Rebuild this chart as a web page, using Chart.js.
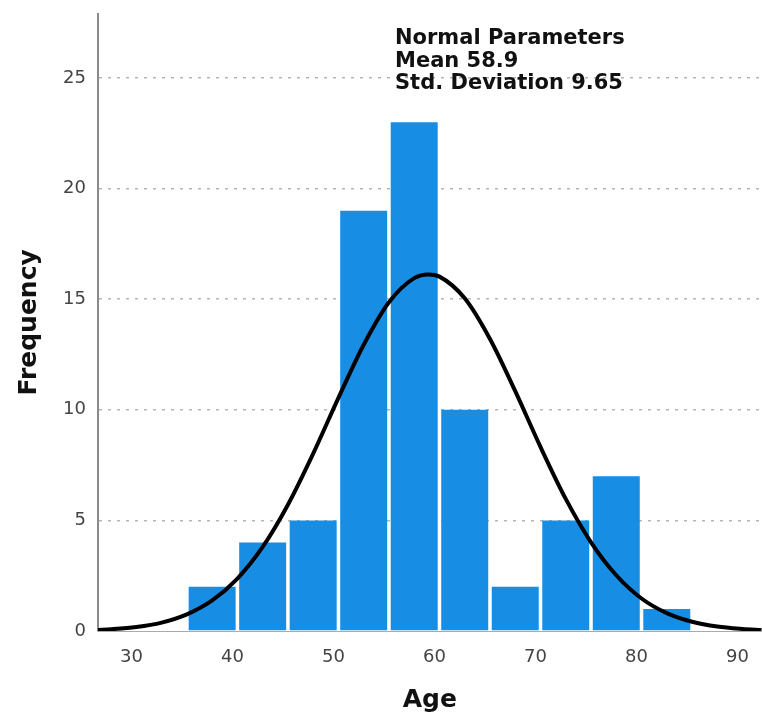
<!DOCTYPE html>
<html>
<head>
<meta charset="utf-8">
<title>Age histogram</title>
<script src="https://cdn.jsdelivr.net/npm/chart.js@4"></script>
<style>
  html, body { margin: 0; padding: 0; background: #fff; }
  #wrap { width: 762px; height: 715px; }
</style>
</head>
<body>
<div id="wrap"><canvas id="chart" width="762" height="715"></canvas></div>
<script>
// histogram of Age, bins 5 years wide
const binCenters = [37.5, 42.5, 47.5, 52.5, 57.5, 62.5, 67.5, 72.5, 77.5, 82.5];
const frequencies = [2, 4, 5, 19, 23, 10, 2, 5, 7, 1];

// normal curve
const curveAge = [26.2, 27.5, 30, 32.5, 35, 37.5, 40, 42.5, 45, 47.5, 50, 52.5, 55, 57.5, 58.9,
  60, 62.5, 65, 67.5, 70, 72.5, 75, 77.5, 80, 82.5, 85, 87.5, 90, 91.9];
const curveFreq = [0.05, 0.08, 0.18, 0.38, 0.75, 1.38, 2.37, 3.8, 5.71, 8.02, 10.54, 12.94, 14.86, 15.95, 16.12,
  16.02, 15.04, 13.2, 10.84, 8.32, 5.97, 4.01, 2.52, 1.47, 0.81, 0.42, 0.2, 0.09, 0.04];

const statLines = ['Normal Parameters', 'Mean 58.9', 'Std. Deviation 9.65'];

const xTicks = [30, 40, 50, 60, 70, 80, 90];
const yTicks = [0, 5, 10, 15, 20, 25];

const statsBox = {
  id: 'statsBox',
  beforeDatasetsDraw(chart) {
    const ctx = chart.ctx;
    ctx.save();
    ctx.fillStyle = '#111';
    ctx.font = 'bold 21px "DejaVu Sans"';
    ctx.textBaseline = 'middle';
    ctx.textAlign = 'left';
    statLines.forEach((t, i) => ctx.fillText(t, 395, 39 + i * 22.5));
    ctx.restore();
  }
};

const ctx = document.getElementById('chart').getContext('2d');
new Chart(ctx, {
  type: 'bar',
  data: {
    datasets: [
      {
        type: 'line',
        label: 'Normal',
        data: curveAge.map((a, i) => ({ x: a, y: curveFreq[i] })),
        borderColor: '#000',
        borderWidth: 4,
        pointRadius: 0,
        tension: 0.4,
        cubicInterpolationMode: 'monotone',
        fill: false,
        order: 0
      },
      {
        label: 'Frequency',
        data: binCenters.map((c, i) => ({ x: c, y: frequencies[i] })),
        backgroundColor: '#178de4',
        borderWidth: 0,
        barPercentage: 0.93,
        categoryPercentage: 1,
        order: 1
      }
    ]
  },
  options: {
    responsive: false,
    animation: false,
    layout: { padding: { top: 9, right: 0, left: 0, bottom: 0 } },
    plugins: {
      legend: { display: false },
      tooltip: { enabled: false }
    },
    scales: {
      x: {
        type: 'linear',
        offset: false,
        min: 26.2,
        max: 91.9,
        afterFit(scale) { scale.height = 84; },
        afterBuildTicks(scale) { scale.ticks = xTicks.map(v => ({ value: v })); },
        grid: { display: false },
        border: { display: true, color: '#aaa', width: 1 },
        ticks: {
          padding: 8,
          labelOffset: -5,
          color: '#444',
          font: { family: 'DejaVu Sans', size: 18 }
        },
        title: {
          display: true,
          text: 'Age',
          color: '#111',
          font: { family: 'DejaVu Sans', size: 25, weight: 'bold' },
          padding: { top: 2, bottom: 0 }
        }
      },
      y: {
        min: 0,
        max: 27.9,
        afterFit(scale) { scale.width = 98; },
        afterBuildTicks(scale) { scale.ticks = yTicks.map(v => ({ value: v })); },
        grid: {
          color: (c) => c.tick && c.tick.value === 0 ? 'rgba(0,0,0,0)' : '#b5b5b5',
          lineWidth: 1.5,
          drawTicks: false
        },
        border: { display: true, color: '#8a8a8a', width: 2, dash: [3, 6] },
        ticks: {
          padding: 12,
          color: '#444',
          // small lineHeight so the top label does not reserve space above the plot
          font: { family: 'DejaVu Sans', size: 18, lineHeight: 0.2 }
        },
        title: {
          display: true,
          text: 'Frequency',
          color: '#111',
          font: { family: 'DejaVu Sans', size: 25, weight: 'bold' },
          padding: { top: 14, bottom: 0 }
        }
      }
    }
  },
  plugins: [statsBox]
});
</script>
</body>
</html>
